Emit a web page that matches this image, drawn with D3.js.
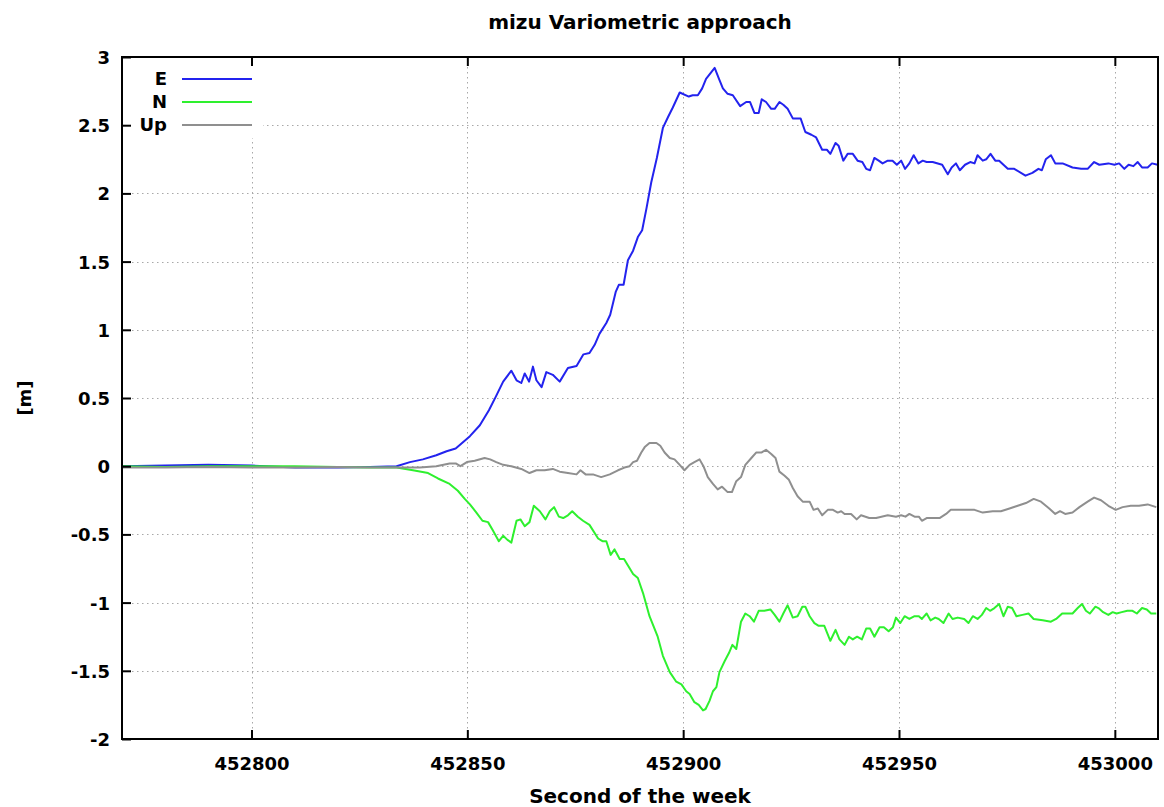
<!DOCTYPE html>
<html><head><meta charset="utf-8">
<script src="https://cdn.jsdelivr.net/npm/d3@7"></script>
<style>body{margin:0;background:#fff}svg{display:block}text{font-family:"DejaVu Sans",sans-serif;font-weight:bold;fill:#000}</style>
</head><body><svg id="c" width="1164" height="807"></svg>
<script>
const T0 = 452770;
const xTicks = [452800, 452850, 452900, 452950, 453000];
const yTicks = [-2, -1.5, -1, -0.5, 0, 0.5, 1, 1.5, 2, 2.5, 3];
const yTickLabels = ["-2", "-1.5", "-1", "-0.5", "0", "0.5", "1", "1.5", "2", "2.5", "3"];
const seriesNames = ["E", "N", "Up"];
const seriesColors = ["#2323ee", "#2ef02e", "#8f8f8f"];

const eSec = [0,10,20,30,40,50,57.4,63.6,66.7,69.7,72.8,75.2,77.3,80.6,82.9,85.0,86.6,88.3,90.2,91.4,92.5,93.3,94.3,95.2,96.0,97.2,98.3,99.8,101.4,103.3,105.3,106.9,108.3,109.5,110.6,112.2,113.1,114.4,115.1,116.2,117.2,118.4,119.5,120.5,121.5,122.6,123.9,125.3,126.5,127.6,129.2,131.3,132.2,133.4,134.4,135.3,137.3,138.3,139.2,140.3,141.5,143.2,144.6,145.5,146.5,147.5,148.2,149.2,150.4,151.2,152.3,153.2,154.2,155.4,157.2,158.3,159.7,160.8,162.2,163.3,164.1,165.3,166.0,167.1,168.1,169.3,170.4,171.5,172.4,173.3,174.3,175.3,176.2,177.4,178.5,179.5,180.5,181.4,182.4,183.4,184.5,185.5,186.4,187.8,190.0,191.3,192.2,193.2,194.1,195.3,196.5,197.5,198.2,199.4,200.2,201.2,202.3,203.2,205.2,206.7,209.3,210.9,212.3,213.1,214.0,215.2,216.2,217.9,220.2,222.2,223.7,225.2,226.4,228.5,229.9,231.0,232.2,233.2,234.3,235.3,236.3,237.6,238.6,239.9];
const eVal = [0,0.005,0.01,0.005,-0.01,-0.01,-0.005,0,0.03,0.05,0.08,0.11,0.13,0.22,0.30,0.41,0.51,0.62,0.70,0.63,0.61,0.68,0.62,0.73,0.63,0.58,0.69,0.67,0.62,0.72,0.735,0.82,0.83,0.89,0.97,1.05,1.11,1.28,1.33,1.33,1.51,1.58,1.68,1.73,1.89,2.08,2.26,2.48,2.56,2.63,2.74,2.71,2.72,2.72,2.77,2.84,2.92,2.84,2.77,2.73,2.72,2.64,2.67,2.67,2.59,2.59,2.69,2.67,2.62,2.62,2.67,2.65,2.62,2.55,2.55,2.45,2.43,2.41,2.32,2.32,2.29,2.37,2.35,2.24,2.29,2.29,2.24,2.23,2.18,2.17,2.26,2.24,2.22,2.24,2.24,2.21,2.24,2.18,2.22,2.28,2.22,2.24,2.23,2.23,2.21,2.14,2.19,2.22,2.17,2.21,2.23,2.22,2.28,2.24,2.25,2.29,2.24,2.24,2.18,2.18,2.13,2.15,2.18,2.17,2.25,2.28,2.22,2.22,2.19,2.18,2.18,2.23,2.21,2.22,2.21,2.22,2.18,2.21,2.20,2.23,2.19,2.19,2.22,2.21];

const nSec = [0,10,20,30,40,50,57.4,63.6,67.4,70.9,73.2,75.9,77.8,79.4,80.6,82.1,83.5,84.8,85.9,87.3,88.3,89.3,90.2,91.4,92.3,93.3,94.4,95.4,96.8,98.1,99.1,100.1,101.2,102.2,103.3,104.3,105.6,106.8,108.3,110.3,111.3,112.2,113.2,114.1,115.3,116.3,118.4,119.5,120.7,122.2,124.1,125.3,126.9,128.4,129.6,130.7,131.5,132.6,133.6,134.6,135.2,136.1,136.9,137.7,138.4,139.6,140.6,141.4,142.3,143.4,144.4,145.4,146.4,147.5,148.8,150.2,151.2,152.3,153.2,154.2,155.4,156.5,157.6,158.3,159.3,160.4,161.4,162.7,164.1,165.3,166.2,167.4,168.4,169.3,170.3,171.4,172.4,173.3,174.3,175.5,176.5,177.6,178.6,179.3,180.3,181.3,182.4,183.6,184.6,185.3,186.4,187.3,188.4,189.2,190.3,191.5,192.4,193.6,195.1,196.1,197.1,198.2,199.2,200.2,201.1,202.1,203.2,204.2,205.2,206.2,207.2,208.6,210.0,211.2,213.3,215.2,216.4,217.8,219.1,220.2,221.4,222.4,223.3,224.2,225.5,226.2,227.3,228.5,229.5,230.4,231.6,232.9,234.1,235.1,236.3,237.4,238.4,239.6];
const nVal = [0,-0.005,0,0,0,-0.005,-0.01,-0.01,-0.03,-0.05,-0.09,-0.13,-0.18,-0.24,-0.28,-0.34,-0.40,-0.41,-0.47,-0.55,-0.51,-0.54,-0.56,-0.40,-0.39,-0.44,-0.41,-0.29,-0.33,-0.39,-0.33,-0.30,-0.37,-0.38,-0.36,-0.33,-0.37,-0.40,-0.43,-0.53,-0.55,-0.55,-0.65,-0.61,-0.68,-0.68,-0.79,-0.82,-0.93,-1.10,-1.25,-1.39,-1.51,-1.58,-1.60,-1.65,-1.67,-1.73,-1.75,-1.79,-1.78,-1.72,-1.65,-1.62,-1.51,-1.43,-1.37,-1.31,-1.34,-1.14,-1.08,-1.10,-1.14,-1.06,-1.06,-1.05,-1.09,-1.14,-1.08,-1.02,-1.11,-1.10,-1.03,-1.03,-1.10,-1.15,-1.17,-1.17,-1.28,-1.20,-1.27,-1.31,-1.25,-1.27,-1.25,-1.27,-1.19,-1.19,-1.25,-1.18,-1.18,-1.21,-1.18,-1.11,-1.15,-1.10,-1.12,-1.10,-1.10,-1.12,-1.08,-1.13,-1.11,-1.12,-1.15,-1.08,-1.12,-1.11,-1.12,-1.15,-1.10,-1.12,-1.09,-1.04,-1.06,-1.04,-1.01,-1.10,-1.03,-1.04,-1.10,-1.09,-1.08,-1.12,-1.13,-1.14,-1.12,-1.08,-1.08,-1.08,-1.04,-1.01,-1.06,-1.08,-1.03,-1.04,-1.07,-1.09,-1.07,-1.08,-1.07,-1.06,-1.06,-1.08,-1.04,-1.05,-1.08,-1.08];

const uSec = [0,10,20,30,40,50,57.4,69.0,72.8,75.9,77.3,78.4,79.9,81.7,84.0,85.3,86.7,88.3,90.2,92.5,94.4,96.0,97.9,99.8,101.4,103.3,105.3,106.2,107.4,109.1,111.0,113.0,114.9,116.4,117.6,118.4,119.3,120.3,121.1,122.2,123.8,124.7,125.7,126.9,128.0,129.2,130.3,131.5,132.6,133.8,134.7,135.7,136.9,138.0,139.0,140.3,141.3,142.3,143.4,144.4,145.8,146.9,148.1,149.2,150.4,151.4,152.3,153.5,154.5,155.4,156.5,157.7,159.3,160.2,161.2,162.2,163.5,164.7,165.8,166.6,167.4,168.9,170.2,171.2,173.1,174.7,177.4,179.3,180.5,181.5,182.4,183.6,184.6,185.3,186.4,189.4,190.9,192.0,194.8,197.5,199.4,201.7,203.6,205.6,207.5,209.4,211.2,212.9,214.8,216.2,217.3,218.5,220.2,221.8,223.7,225.2,226.8,228.5,230.2,231.8,233.7,235.6,237.6,239.6];
const uVal = [-0.01,-0.01,-0.005,-0.01,-0.01,-0.005,-0.01,-0.01,0,0.02,0.02,0,0.03,0.04,0.06,0.05,0.03,0.01,0,-0.02,-0.05,-0.03,-0.03,-0.02,-0.04,-0.05,-0.06,-0.03,-0.06,-0.06,-0.08,-0.06,-0.03,-0.01,0,0.03,0.04,0.10,0.14,0.17,0.17,0.15,0.10,0.06,0.05,0.01,-0.03,0.01,0.03,0.05,0,-0.08,-0.13,-0.17,-0.15,-0.19,-0.19,-0.11,-0.08,0.01,0.06,0.10,0.10,0.12,0.09,0.06,-0.04,-0.07,-0.10,-0.16,-0.22,-0.26,-0.26,-0.32,-0.31,-0.36,-0.32,-0.32,-0.34,-0.33,-0.35,-0.35,-0.39,-0.36,-0.38,-0.38,-0.36,-0.37,-0.36,-0.37,-0.35,-0.37,-0.37,-0.40,-0.38,-0.38,-0.35,-0.32,-0.32,-0.32,-0.34,-0.33,-0.33,-0.31,-0.29,-0.27,-0.24,-0.26,-0.31,-0.35,-0.33,-0.35,-0.34,-0.30,-0.26,-0.23,-0.25,-0.29,-0.32,-0.30,-0.29,-0.29,-0.28,-0.30];

const L = 122, R = 1158, T = 57, B = 739;
const svg = d3.select("#c");
const x = d3.scaleLinear().domain([452770, 453010]).range([L, R]);
const y = d3.scaleLinear().domain([-2, 3]).range([B, T]);

const series = [[eSec, eVal], [nSec, nVal], [uSec, uVal]].map(([s, v], i) => {
  if (s.length !== v.length) throw new Error("length mismatch " + seriesNames[i] + " " + s.length + " " + v.length);
  return { name: seriesNames[i], color: seriesColors[i], pts: s.map((t, j) => [T0 + t, v[j]]) };
});

// grid
const grid = svg.append("g").attr("stroke", "#a8a8a8").attr("stroke-width", 1).attr("stroke-dasharray", "1.5,3.5");
grid.selectAll(".gx").data(xTicks).join("line")
  .attr("x1", d => Math.round(x(d)) + 0.5).attr("x2", d => Math.round(x(d)) + 0.5).attr("y1", T).attr("y2", B);
grid.selectAll(".gy").data(yTicks.filter(d => d > -2 && d < 3)).join("line")
  .attr("y1", d => Math.round(y(d)) + 0.5).attr("y2", d => Math.round(y(d)) + 0.5).attr("x1", L).attr("x2", R);

// legend background
svg.append("rect").attr("x", L + 1).attr("y", T + 1).attr("width", 140).attr("height", 80).attr("fill", "#fff");

// lines
const line = d3.line().x(d => x(d[0])).y(d => y(d[1]));
svg.append("g").selectAll("path").data(series).join("path")
  .attr("d", d => line(d.pts)).attr("fill", "none").attr("stroke", d => d.color)
  .attr("stroke-width", 2).attr("stroke-linejoin", "round");

// axes (ticks inward)
const xAxisB = d3.axisBottom(x).tickValues(xTicks).tickFormat(d3.format("d")).tickSizeInner(-9).tickSizeOuter(0).tickPadding(18);
const gxb = svg.append("g").attr("transform", `translate(0,${B})`).call(xAxisB);
const xAxisT = d3.axisTop(x).tickValues(xTicks).tickFormat("").tickSizeInner(-9).tickSizeOuter(0);
const gxt = svg.append("g").attr("transform", `translate(0,${T})`).call(xAxisT);
const yAxisL = d3.axisLeft(y).tickValues(yTicks).tickFormat((d, i) => yTickLabels[i]).tickSizeInner(-9).tickSizeOuter(0).tickPadding(12);
const gyl = svg.append("g").attr("transform", `translate(${L},0)`).call(yAxisL);
[gxb, gxt, gyl].forEach(g => {
  g.select(".domain").remove();
  g.selectAll(".tick line").attr("stroke", "#000").attr("stroke-width", 2);
  g.selectAll("text").attr("font-size", 18).attr("font-family", "DejaVu Sans").attr("font-weight", "bold").attr("fill", "#000");
});
gyl.selectAll("text").attr("dy", "0.36em");

// frame
svg.append("rect").attr("x", L).attr("y", T).attr("width", R - L).attr("height", B - T)
  .attr("fill", "none").attr("stroke", "#000").attr("stroke-width", 2);

// legend
const leg = svg.append("g");
series.forEach((s, i) => {
  const yy = 79 + i * 23;
  leg.append("text").attr("x", 167).attr("y", yy).attr("dy", "0.36em").attr("text-anchor", "end")
    .attr("font-size", 18).text(s.name);
  leg.append("line").attr("x1", 182).attr("x2", 252).attr("y1", yy).attr("y2", yy)
    .attr("stroke", s.color).attr("stroke-width", 2);
});

// titles
svg.append("text").attr("x", (L + R) / 2).attr("y", 29).attr("text-anchor", "middle").attr("font-size", 20).text("mizu Variometric approach");
svg.append("text").attr("x", (L + R) / 2).attr("y", 803).attr("text-anchor", "middle").attr("font-size", 20).text("Second of the week");
svg.append("text").attr("transform", "translate(31,398) rotate(-90)").attr("text-anchor", "middle").attr("font-size", 18).text("[m]");
</script></body></html>
